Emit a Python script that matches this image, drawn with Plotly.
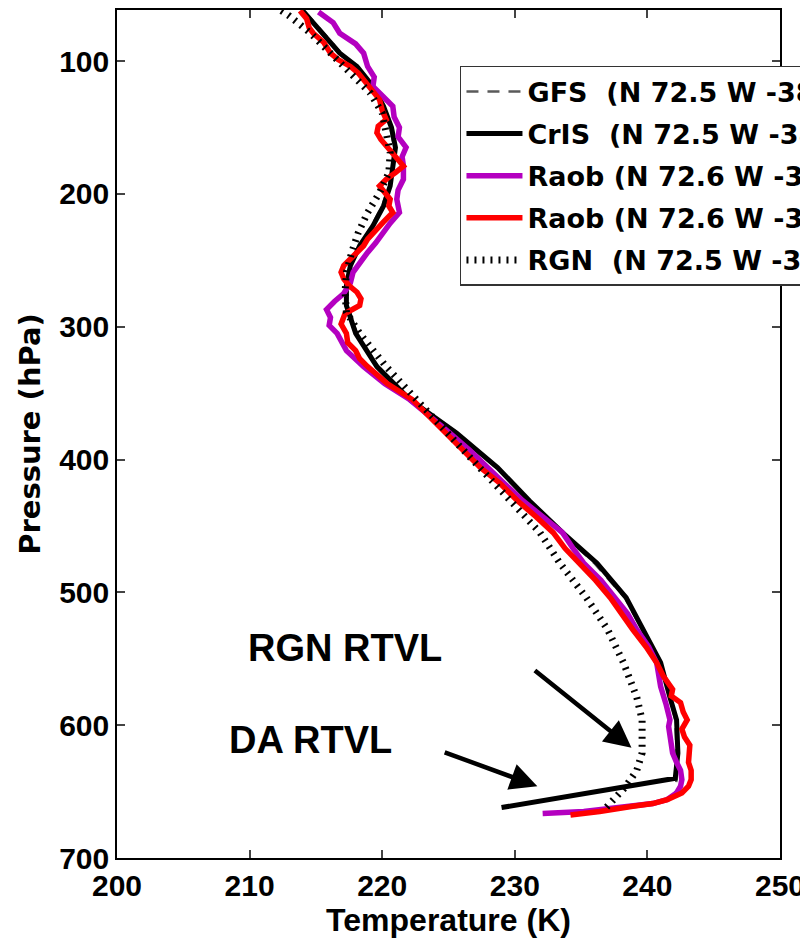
import plotly.graph_objects as go

# ---------------- data ----------------
gfs_p = [63, 79, 94, 104, 119, 134, 150, 165, 179, 194, 209, 224, 239, 254, 269, 284,
         305, 330, 355, 380, 406, 431, 455, 478, 504, 528, 553, 579, 596, 621, 640, 651]
gfs_t = [214.2, 215.6, 216.9, 218.0, 219.2, 220.0, 220.6, 220.9, 220.8, 220.5, 220.0, 219.2,
         218.3, 217.6, 217.3, 217.4, 218.1, 219.7, 222.2, 225.5, 228.6, 231.0, 233.5, 236.0,
         238.3, 239.6, 240.9, 241.7, 242.1, 242.2, 242.2, 242.1]

cris_p = [62, 79, 94, 104, 119, 134, 150, 165, 179, 194, 209, 224, 239, 254, 269, 284,
          305, 330, 355, 380, 406, 431, 455, 478, 504, 528, 553, 579, 596, 621, 640, 662]
cris_t = [214.0, 215.5, 216.8, 218.1, 219.3, 220.1, 220.7, 221.0, 220.8, 220.6, 220.1, 219.3,
          218.3, 217.6, 217.3, 217.3, 218.0, 219.6, 222.1, 225.6, 228.7, 231.1, 233.6, 236.2,
          238.4, 239.7, 241.0, 241.7, 242.2, 242.3, 242.1, 229.0]

raob1_p = [63, 71, 79, 87, 94, 104, 112, 119, 127, 134, 142, 150, 157, 165, 172, 179, 189,
           197, 204, 214, 222, 229, 237, 244, 252, 259, 267, 275, 281, 287, 293, 299, 305,
           318, 330, 343, 355, 368, 380, 393, 406, 418, 431, 443, 455, 467, 478, 491, 504,
           516, 528, 541, 553, 562, 571, 584, 596, 601, 610, 621, 628, 634, 641, 646, 651,
           656, 659, 661, 663, 665, 666.5]
raob1_t = [215.2, 216.3, 216.8, 218.0, 218.6, 218.9, 219.4, 219.3, 220.1, 220.8, 220.9, 221.3,
           221.2, 221.8, 221.5, 221.6, 221.6, 221.2, 221.1, 221.3, 220.6, 220.1, 219.5, 218.9,
           218.3, 217.8, 217.6, 217.1, 216.4, 215.8, 216.1, 216.0, 216.6, 217.3, 218.6, 220.2,
           222.1, 223.7, 225.1, 226.6, 227.9, 229.2, 230.6, 232.1, 233.6, 234.4, 235.2, 236.5,
           237.6, 238.5, 239.2, 240.1, 240.7, 240.9, 241.0, 241.4, 241.7, 241.6, 241.7, 241.9,
           242.2, 242.5, 242.6, 242.5, 242.2, 241.5, 240.4, 238.9, 237.3, 235.2, 232.1]

raob2_p = [62, 68, 75, 79, 86, 94, 99, 104, 109, 114, 122, 129, 137, 144, 149, 154, 159,
           164, 172, 179, 184, 189, 194, 199, 204, 209, 214, 221, 229, 234, 239, 247, 254,
           259, 264, 269, 274, 279, 284, 290, 298, 305, 312, 318, 324, 330, 343, 355, 368,
           380, 393, 406, 418, 431, 443, 455, 467, 478, 491, 504, 516, 528, 541, 553, 563,
           573, 578, 583, 590, 596, 603, 609, 615, 621, 628, 634, 641, 646, 651, 656, 659,
           661, 663, 665, 667.6]
raob2_t = [213.8, 214.3, 214.5, 214.8, 215.6, 216.1, 216.7, 217.6, 218.2, 218.6, 219.2, 219.8,
           220.0, 220.3, 219.7, 219.6, 219.9, 220.3, 221.0, 221.6, 221.0, 220.3, 219.8, 220.2,
           220.6, 220.5, 220.8, 220.1, 219.3, 218.9, 218.6, 217.8, 217.1, 216.9, 217.1, 217.5,
           218.1, 218.4, 218.3, 217.2, 216.9, 217.3, 217.4, 218.0, 218.3, 218.9, 220.4, 222.3,
           223.6, 224.9, 226.1, 227.4, 228.9, 230.2, 231.6, 232.9, 233.8, 234.9, 236.1, 237.2,
           238.0, 238.9, 239.9, 240.7, 241.2, 241.9, 241.8, 242.5, 242.7, 243.0, 242.6, 242.8,
           243.2, 243.2, 243.1, 243.3, 243.3, 243.1, 242.6, 241.5, 240.4, 238.9, 237.7, 236.4,
           234.2]

rgn_p = [62, 66, 79, 94, 109, 124, 139, 154, 169, 184, 199, 214, 229, 244, 259, 274, 289,
         305, 330, 355, 380, 406, 431, 455, 478, 504, 528, 553, 579, 596, 621, 634, 647,
         656, 664]
rgn_t = [212.4, 213.0, 214.6, 216.1, 217.6, 219.1, 220.0, 220.3, 220.6, 220.5, 219.8, 218.9,
         218.2, 217.7, 217.3, 217.2, 217.3, 218.3, 220.3, 222.6, 224.9, 227.4, 229.6, 231.9,
         233.4, 235.4, 237.0, 238.2, 239.2, 239.6, 239.6, 239.2, 238.3, 237.4, 236.7]

names = ["GFS\u00a0\u00a0(N 72.5 W -38.5)",
         "CrIS\u00a0\u00a0(N 72.5 W -38.5)",
         "Raob (N 72.6 W -38.5)",
         "Raob (N 72.6 W -38.5)",
         "RGN\u00a0\u00a0(N 72.5 W -38.5)"]

x_ticks = [200, 210, 220, 230, 240, 250]
y_ticks = [100, 200, 300, 400, 500, 600, 700]

# annotation anchors (data coordinates)
rgn_label = ("RGN RTVL", 217.2, 542)
da_label = ("DA RTVL", 214.6, 611)
rgn_arrow = (231.4, 558, 238.8, 617)   # tail T, tail P, head T, head P
da_arrow = (224.6, 620, 231.7, 646)

# ---------------- figure ----------------
fig = go.Figure()

series = [
    (gfs_t, gfs_p, dict(color="#5a5a5a", width=2.5, dash="12px,9px")),
    (cris_t, cris_p, dict(color="#000000", width=5)),
    (raob1_t, raob1_p, dict(color="#b400c0", width=5.5)),
    (raob2_t, raob2_p, dict(color="#ff0000", width=5.5)),
    (rgn_t, rgn_p, dict(color="#000000", width=7, dash="2px,6px")),
]
for i, ((t, p, ln), nm) in enumerate(zip(series, names)):
    fig.add_trace(go.Scatter(x=t, y=p, mode="lines", line=ln, name=nm,
                             legendgroup=f"g{i}"))

tick_font = dict(family="Liberation Sans, Arial, sans-serif", size=30, color="black",
                 weight="bold")

fig.update_xaxes(range=[200, 250], tickvals=x_ticks, ticks="inside", ticklen=8,
                 tickwidth=1.5, showline=True, linecolor="black", linewidth=1.5,
                 mirror="ticks", showgrid=False, zeroline=False, tickfont=tick_font,
                 title=dict(text="Temperature (K)", standoff=2,
                            font=dict(family="Liberation Sans, Arial, sans-serif",
                                      size=32, color="black", weight="bold")))
fig.update_yaxes(range=[700, 61.5], tickvals=y_ticks, ticks="inside", ticklen=8,
                 tickwidth=1.5, showline=True, linecolor="black", linewidth=1.5,
                 mirror="ticks", showgrid=False, zeroline=False, tickfont=tick_font,
                 title=dict(text="Pressure (hPa)", standoff=10,
                            font=dict(family="DejaVu Sans, sans-serif", size=29,
                                      color="black", weight="bold")))

for txt, tx, ty in [rgn_label, da_label]:
    fig.add_annotation(x=tx, y=ty, xref="x", yref="y", text=txt, showarrow=False,
                       font=dict(family="Liberation Sans, Arial, sans-serif", size=38,
                                 color="black", weight="bold"))
for at, ap, ht, hp in [rgn_arrow, da_arrow]:
    fig.add_annotation(x=ht, y=hp, ax=at, ay=ap, xref="x", yref="y", axref="x",
                       ayref="y", text="", showarrow=True, arrowhead=2, arrowsize=1.2,
                       arrowwidth=4.5, arrowcolor="black")

fig.update_layout(
    width=800, height=932,
    margin=dict(l=109, r=28, t=2, b=82, autoexpand=False),
    paper_bgcolor="white", plot_bgcolor="white",
    showlegend=True,
    legend=dict(x=0.5173, y=0.934, xanchor="left", yanchor="top",
                bgcolor="white", bordercolor="#333333", borderwidth=1.5,
                traceorder="grouped", tracegroupgap=4, itemwidth=56,
                font=dict(family="DejaVu Sans, sans-serif", size=27, color="black",
                          weight="bold")),
)

fig.write_html("out.html")
